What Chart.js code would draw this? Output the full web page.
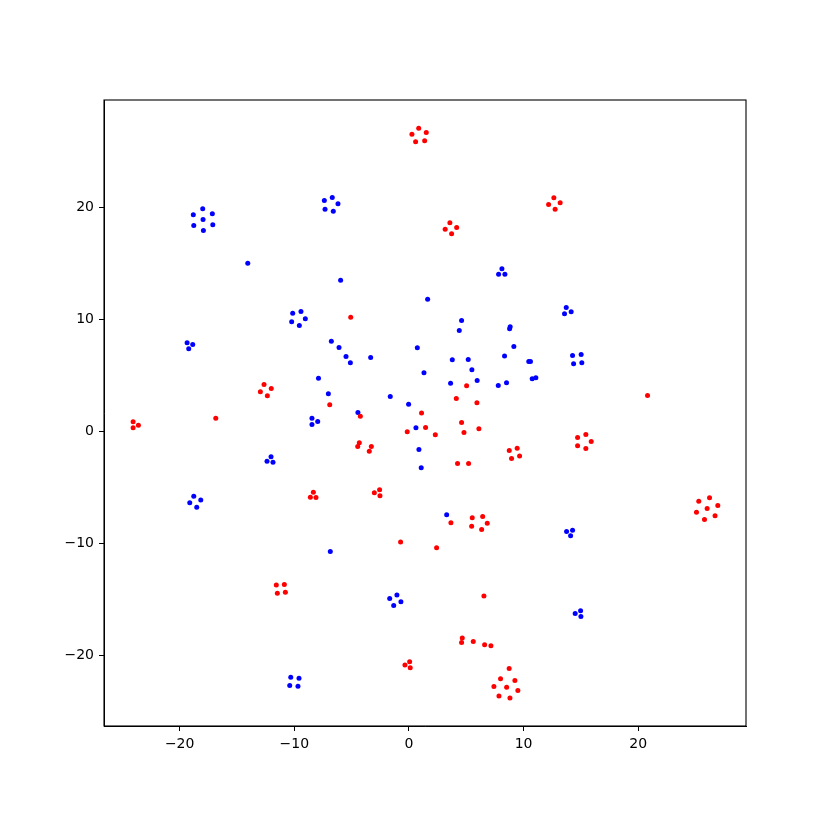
<!DOCTYPE html>
<html>
<head>
<meta charset="utf-8">
<script src="https://cdn.jsdelivr.net/npm/chart.js@4"></script>
<style>
  body { margin: 0; background: #fff; }
</style>
</head>
<body>
<canvas id="scatterChart" width="830" height="830"></canvas>
<script>
// red group
var redX = [0.85, 0.26, 1.51, 0.58, 1.37, 3.57, 3.16, 4.16, 3.72, 12.64, 12.18, 13.19, 12.75,
    -12.64, -12.01, -12.96, -12.35, -24.06, -23.60, -24.06, -16.85, -8.34, -8.60, -8.11,
    -5.08, 5.03, 4.13, 5.93, -6.91, -4.24, 1.10, 4.59, 1.45, -0.15, 2.30, 4.80, 6.10,
    -4.33, -4.47, -3.28, -3.46, 8.75, 9.44, 8.95, 9.65, 4.24, 5.20, -2.56, -3.02, -2.53,
    20.81, 15.43, 14.71, 15.90, 14.71, 15.43, -11.57, -10.87, -11.48, -10.78,
    3.66, 5.52, 6.43, 6.83, 5.47, 6.34, -0.73, 2.41, 6.54, 4.65, 4.59, 5.61, 6.60, 7.15,
    0.06, -0.35, 0.11, 8.74, 7.99, 9.24, 7.41, 8.52, 9.50, 7.85, 8.81,
    26.22, 25.28, 26.94, 26.01, 25.08, 26.70, 25.78];
var redY = [27.08, 26.54, 26.70, 25.87, 25.96, 18.63, 18.06, 18.21, 17.65, 20.87, 20.27, 20.42, 19.85,
    4.20, 3.84, 3.54, 3.19, 0.87, 0.56, 0.33, 1.19, -5.42, -5.87, -5.89,
    10.21, 4.08, 2.95, 2.56, 2.38, 1.37, 1.64, 0.80, 0.36, -0.03, -0.30, -0.09, 0.24,
    -1.01, -1.34, -1.34, -1.76, -1.70, -1.49, -2.41, -2.20, -2.86, -2.86, -5.21, -5.48, -5.74,
    3.21, -0.27, -0.54, -0.89, -1.28, -1.52, -13.72, -13.66, -14.44, -14.35,
    -8.15, -7.71, -7.59, -8.19, -8.46, -8.75, -9.88, -10.39, -14.70, -18.45, -18.84, -18.75, -19.05, -19.13,
    -20.57, -20.86, -21.10, -21.16, -22.08, -22.23, -22.77, -22.83, -23.13, -23.63, -23.81,
    -5.92, -6.22, -6.61, -6.88, -7.21, -7.53, -7.86];

// blue group
var blueX = [-17.99, -18.81, -17.15, -17.96, -18.77, -17.11, -17.93, -14.06,
    -6.69, -7.38, -6.19, -7.32, -6.60, 8.11, 7.82, 8.37, -5.96, 1.63,
    -10.14, -9.42, -9.04, -10.23, -9.56, -19.35, -18.86, -19.21, -7.89,
    -8.46, -7.96, -8.46, -12.03, -12.38, -11.86, -18.77, -18.16, -19.12, -18.51,
    4.59, 4.39, 8.83, 8.78, -6.77, -6.10, -5.49, -5.11, -3.34, 0.73, 9.15, 8.34,
    10.45, 10.60, 3.78, 5.17, 5.49, 1.31, 5.95, 3.63, 7.79, 8.51, 10.75, 11.07,
    -7.03, -1.63, -0.03, -4.45, 0.61, 0.87, 1.07,
    13.72, 13.57, 14.15, 14.27, 15.02, 14.36, 15.08, 3.29, -6.86,
    -1.05, -1.68, -0.70, -1.33, -10.31, -9.59, -10.40, -9.68,
    13.75, 14.27, 14.10, 14.97, 14.50, 15.00];
var blueY = [19.88, 19.35, 19.44, 18.93, 18.39, 18.46, 17.95, 15.03,
    20.89, 20.63, 20.33, 19.85, 19.67, 14.53, 14.04, 14.04, 13.51, 11.81,
    10.56, 10.71, 10.06, 9.79, 9.46, 7.92, 7.77, 7.38, 4.76,
    1.19, 0.89, 0.63, -2.26, -2.65, -2.74, -5.78, -6.13, -6.37, -6.76,
    9.91, 9.02, 9.35, 9.17, 8.06, 7.50, 6.70, 6.13, 6.61, 7.47, 7.59, 6.73,
    6.25, 6.25, 6.40, 6.43, 5.51, 5.24, 4.55, 4.31, 4.11, 4.35, 4.70, 4.79,
    3.36, 3.13, 2.44, 1.70, 0.33, -1.61, -3.24,
    11.07, 10.51, 10.69, 6.79, 6.88, 6.04, 6.13, -7.44, -10.71,
    -14.61, -14.91, -15.21, -15.54, -21.94, -22.03, -22.68, -22.74,
    -8.93, -8.81, -9.31, -16.01, -16.25, -16.52];

var xTicks = [-20, -10, 0, 10, 20];
var yTicks = [-20, -10, 0, 10, 20];

function toPoints(xs, ys) {
    return xs.map(function (x, i) { return { x: x, y: ys[i] }; });
}

function minusSign(v) {
    return String(v).replace('-', '\u2212');
}

// box round the plot area, like the matplotlib frame
var framePlugin = {
    id: 'frame',
    afterDraw: function (chart) {
        var a = chart.chartArea;
        var ctx = chart.ctx;
        ctx.save();
        ctx.strokeStyle = '#000';
        ctx.lineWidth = 1.1;
        ctx.strokeRect(a.left, a.top, a.right - a.left, a.bottom - a.top);
        ctx.restore();
    }
};

var tickFont = { family: 'DejaVu Sans', size: 14 };

var ctx = document.getElementById('scatterChart').getContext('2d');
new Chart(ctx, {
    type: 'scatter',
    data: {
        datasets: [{
            label: 'red',
            data: toPoints(redX, redY),
            backgroundColor: '#ff0000',
            borderWidth: 0,
            pointRadius: 2.5
        }, {
            label: 'blue',
            data: toPoints(blueX, blueY),
            backgroundColor: '#0000ff',
            borderWidth: 0,
            pointRadius: 2.5
        }]
    },
    options: {
        responsive: false,
        animation: false,
        layout: { padding: { left: 0, top: 100, right: 84, bottom: 0 } },
        plugins: {
            legend: { display: false },
            tooltip: { enabled: false }
        },
        scales: {
            x: {
                type: 'linear',
                min: -26.6,
                max: 29.4,
                afterFit: function (scale) { scale.height = 104; },
                afterBuildTicks: function (scale) {
                    scale.ticks = xTicks.map(function (v) { return { value: v }; });
                },
                border: { display: true, color: '#000', width: 1 },
                grid: { drawOnChartArea: false, drawTicks: true, tickLength: 5, color: '#000' },
                ticks: { color: '#000', font: tickFont, padding: 5, maxRotation: 0,
                    callback: function (v) { return minusSign(v); } }
            },
            y: {
                type: 'linear',
                min: -26.3,
                max: 29.6,
                afterFit: function (scale) { scale.width = 104; },
                afterBuildTicks: function (scale) {
                    scale.ticks = yTicks.map(function (v) { return { value: v }; });
                },
                border: { display: true, color: '#000', width: 1 },
                grid: { drawOnChartArea: false, drawTicks: true, tickLength: 5, color: '#000' },
                ticks: { color: '#000', font: tickFont, padding: 5,
                    callback: function (v) { return minusSign(v); } }
            }
        }
    },
    plugins: [framePlugin]
});
</script>
</body>
</html>
